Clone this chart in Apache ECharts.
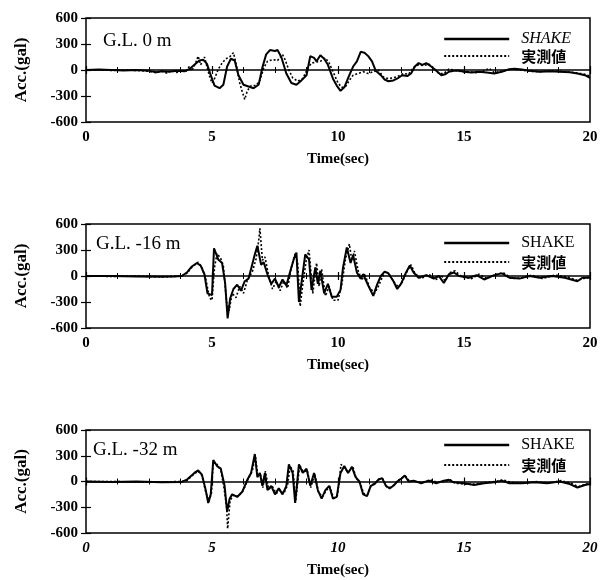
<!DOCTYPE html>
<html>
<head>
<meta charset="utf-8">
<title>SHAKE vs 実測値</title>
<script src="https://cdn.jsdelivr.net/npm/echarts@6/dist/echarts.min.js"></script>
<style>
  html, body { margin: 0; padding: 0; background: #fff; }
  #chart { width: 604px; height: 580px; }
</style>
</head>
<body>
<div id="chart"></div>
<script>
// depth labels and tick labels
const depthLabels = ['G.L. 0 m', 'G.L. -16 m', 'G.L. -32 m']
const xTicks = [0, 5, 10, 15, 20]
const yTicks = [-600, -300, 0, 300, 600]

// G.L. 0 m
const t0s = [0, 0.5, 1.0, 1.5, 2.0, 2.5, 2.8, 3.0, 3.3, 3.6, 3.9, 4.1, 4.3, 4.5, 4.65, 4.8, 4.95, 5.1, 5.3, 5.45, 5.6, 5.75, 5.9, 6.05, 6.25, 6.45, 6.65, 6.85, 7.0, 7.15, 7.3, 7.5, 7.6, 7.75, 7.95, 8.15, 8.35, 8.55, 8.75, 8.9, 9.05, 9.15, 9.3, 9.45, 9.6, 9.8, 9.95, 10.1, 10.25, 10.45, 10.6, 10.75, 10.9, 11.05, 11.2, 11.35, 11.5, 11.7, 11.85, 12.0, 12.2, 12.4, 12.55, 12.75, 12.9, 13.05, 13.2, 13.35, 13.5, 13.7, 13.9, 14.1, 14.25, 14.4, 14.6, 14.8, 15.0, 15.3, 15.6, 15.9, 16.2, 16.5, 16.8, 17.0, 17.3, 17.6, 18.0, 18.4, 18.8, 19.2, 19.5, 19.8, 20]
const shake0 = [0, 5, 0, -5, 0, -10, -25, -15, -20, -10, -15, 10, 60, 110, 120, 70, -60, -180, -210, -170, 40, 130, 110, -60, -170, -190, -210, -170, 30, 180, 230, 220, 230, 150, -40, -150, -170, -120, -60, 160, 140, 100, 170, 130, 60, -100, -180, -240, -200, -60, 40, 100, 210, 200, 160, 100, -10, -60, -110, -130, -120, -90, -60, -70, -40, 40, 80, 60, 80, 40, -10, -60, -50, -20, -10, -5, -20, -30, -20, -30, -40, -20, 10, 15, 5, -10, -20, -15, -20, -25, -40, -60, -90]
const t0m = [0, 0.5, 1.0, 1.5, 2.0, 2.5, 2.75, 3.0, 3.2, 3.4, 3.6, 3.8, 3.95, 4.1, 4.2, 4.35, 4.45, 4.55, 4.7, 4.8, 4.9, 5.0, 5.1, 5.25, 5.4, 5.55, 5.7, 5.85, 5.95, 6.1, 6.2, 6.3, 6.4, 6.55, 6.75, 6.9, 7.05, 7.2, 7.4, 7.6, 7.8, 7.9, 8.05, 8.2, 8.4, 8.6, 8.8, 8.95, 9.1, 9.3, 9.5, 9.65, 9.85, 10.0, 10.15, 10.3, 10.45, 10.6, 10.8, 11.0, 11.2, 11.4, 11.6, 11.8, 12.0, 12.2, 12.4, 12.6, 12.8, 13.0, 13.2, 13.4, 13.6, 13.8, 14.0, 14.2, 14.4, 14.6, 14.9, 15.2, 15.5, 15.8, 16.0, 16.2, 16.6, 16.9, 17.2, 17.6, 18.0, 18.5, 19.0, 19.4, 19.8, 20]
const meas0 = [0, 0, -5, 0, -5, -15, -30, -10, -35, -5, -30, 5, -25, 40, -10, 80, 160, 60, 150, 40, -70, -150, -100, 10, 80, 130, 150, 200, 80, -150, -250, -340, -240, -180, -180, -120, 20, 100, 120, 110, 180, 120, 0, -90, -130, -100, 20, 80, 90, 100, 140, 80, -50, -150, -200, -190, -120, -60, -40, -20, -40, -20, 0, -80, -100, -90, -70, -40, -50, 30, 60, 50, 70, 20, -40, -40, 10, 0, -20, -20, -30, -10, 20, -30, -10, 15, 0, -15, -20, -10, -20, -30, -50, -70]

// G.L. -16 m
const t1s = [0, 1, 2, 3, 3.5, 3.8, 4.0, 4.2, 4.4, 4.55, 4.7, 4.82, 5.0, 5.08, 5.25, 5.4, 5.52, 5.62, 5.72, 5.85, 6.0, 6.15, 6.3, 6.45, 6.55, 6.7, 6.8, 6.95, 7.05, 7.2, 7.35, 7.5, 7.65, 7.8, 7.95, 8.1, 8.25, 8.35, 8.45, 8.55, 8.7, 8.85, 8.95, 9.1, 9.2, 9.3, 9.45, 9.6, 9.75, 9.95, 10.1, 10.2, 10.35, 10.5, 10.6, 10.75, 10.9, 11.0, 11.2, 11.4, 11.55, 11.7, 11.85, 12.0, 12.2, 12.35, 12.5, 12.7, 12.85, 13.0, 13.2, 13.5, 13.8, 14.0, 14.2, 14.4, 14.6, 14.8, 15.2, 15.5, 15.8, 16.2, 16.5, 16.8, 17.2, 17.6, 18.0, 18.5, 19.0, 19.5, 19.7, 20]
const shake1 = [0, 0, -5, -10, -5, 0, 40, 110, 150, 120, 20, -200, -220, 320, 190, 150, -80, -490, -260, -150, -100, -170, -60, -30, 80, 250, 350, 130, 160, 20, -90, -30, -130, -40, -110, 50, 200, 270, -300, -80, 250, 190, -160, 100, -90, 60, -200, -90, -240, -240, -160, 100, 330, 150, 240, 40, -30, 20, -110, -230, -100, 0, 50, 30, -60, -150, -90, 40, 120, 40, -20, 10, -30, 0, -80, 20, 40, 0, -20, 10, -40, 10, 30, -20, -30, 0, -20, 0, -20, -60, -20, -20]
const t1m = [0, 1, 2, 3, 3.8, 4.0, 4.2, 4.45, 4.6, 4.75, 4.9, 5.0, 5.1, 5.2, 5.35, 5.45, 5.58, 5.68, 5.8, 5.95, 6.1, 6.25, 6.4, 6.6, 6.75, 6.85, 6.9, 7.0, 7.1, 7.25, 7.4, 7.55, 7.7, 7.85, 8.0, 8.15, 8.3, 8.4, 8.5, 8.6, 8.75, 8.85, 9.0, 9.15, 9.25, 9.35, 9.5, 9.65, 9.8, 10.0, 10.15, 10.3, 10.45, 10.55, 10.65, 10.8, 10.95, 11.05, 11.25, 11.45, 11.6, 11.75, 11.9, 12.05, 12.25, 12.4, 12.55, 12.75, 12.9, 13.05, 13.3, 13.6, 13.9, 14.1, 14.25, 14.45, 14.65, 14.9, 15.3, 15.6, 15.9, 16.3, 16.55, 16.9, 17.3, 17.7, 18.1, 18.6, 19.1, 19.5, 19.75, 20]
const meas1 = [0, -5, 0, -10, 0, 30, 100, 160, 100, -30, -250, -280, 100, 260, 200, 120, -300, -400, -200, -250, -120, -200, -50, 50, 200, 400, 550, 180, 220, 0, -150, -60, -170, -60, -140, 100, 260, 150, -350, -100, 200, 300, -200, 150, -120, 80, -230, -120, -280, -280, -100, 200, 370, 180, 290, 60, -50, 30, -130, -200, -120, -20, 60, 10, -80, -130, -70, 60, 130, 30, -30, 20, -40, 10, -60, 40, 60, -10, -30, 20, -30, 20, 40, -30, -20, 10, -30, 10, -10, -50, -30, -10]

// G.L. -32 m
const t2s = [0, 1, 2, 3, 3.8, 4.0, 4.3, 4.45, 4.6, 4.75, 4.85, 4.95, 5.05, 5.2, 5.35, 5.5, 5.6, 5.7, 5.8, 6.0, 6.2, 6.4, 6.55, 6.7, 6.8, 6.9, 7.0, 7.1, 7.2, 7.35, 7.5, 7.65, 7.8, 7.95, 8.05, 8.2, 8.3, 8.45, 8.6, 8.75, 8.9, 9.05, 9.2, 9.35, 9.5, 9.65, 9.8, 9.95, 10.1, 10.25, 10.4, 10.55, 10.7, 10.85, 11.0, 11.15, 11.3, 11.45, 11.6, 11.75, 11.9, 12.05, 12.2, 12.35, 12.5, 12.65, 12.8, 13.0, 13.3, 13.6, 13.9, 14.2, 14.4, 14.6, 15.0, 15.4, 15.8, 16.2, 16.5, 16.8, 17.3, 17.8, 18.3, 18.8, 19.2, 19.5, 19.8, 20]
const shake2 = [0, -5, 0, -10, -5, 20, 100, 130, 80, -100, -250, -150, 250, 180, 150, -50, -350, -200, -150, -180, -120, 20, 100, 320, 50, 100, -50, 100, -100, -50, -150, -80, -150, -50, 200, 100, -250, 200, 100, 150, -50, 100, -100, -200, -100, -50, -200, -180, 100, 180, 100, 170, 50, 0, -150, -170, -50, -30, 20, 40, -50, -80, -50, 0, 30, 70, 0, 10, -20, 10, -20, 10, 20, -10, -20, -40, -20, -10, 10, -20, -20, -10, -20, 0, -30, -70, -40, -30]
const t2m = [0, 1, 2, 3, 3.8, 4.0, 4.3, 4.45, 4.6, 4.75, 4.88, 4.98, 5.05, 5.2, 5.35, 5.48, 5.58, 5.62, 5.72, 5.85, 6.05, 6.25, 6.45, 6.6, 6.72, 6.82, 6.92, 7.02, 7.12, 7.25, 7.4, 7.55, 7.7, 7.85, 8.0, 8.1, 8.22, 8.32, 8.48, 8.62, 8.78, 8.92, 9.08, 9.22, 9.38, 9.52, 9.68, 9.82, 9.98, 10.12, 10.25, 10.42, 10.58, 10.72, 10.88, 11.02, 11.18, 11.32, 11.48, 11.62, 11.78, 11.92, 12.08, 12.22, 12.38, 12.52, 12.68, 12.82, 13.05, 13.35, 13.65, 13.95, 14.25, 14.45, 14.65, 15.05, 15.45, 15.85, 16.25, 16.55, 16.85, 17.35, 17.85, 18.35, 18.85, 19.25, 19.55, 19.85, 20]
const meas2 = [0, 0, -5, -5, 0, 10, 90, 120, 70, -120, -230, -130, 230, 200, 130, -80, -300, -550, -220, -160, -170, -100, 40, 120, 300, 60, 90, -70, 120, -90, -60, -140, -100, -140, -40, 180, 120, -230, 190, 110, 130, -70, 90, -120, -180, -110, -60, -190, -160, 200, 150, 110, 180, 40, -20, -140, -150, -40, -20, 30, 30, -60, -70, -40, 10, 40, 60, 10, 0, -10, 20, -10, 0, 20, -20, -30, -30, -10, 0, 20, -10, -20, 0, -20, 10, -20, -60, -30, -20]

const times = [[t0s, t0m], [t1s, t1m], [t2s, t2m]]
const shakeVals = [shake0, shake1, shake2]
const measVals = [meas0, meas1, meas2]

const pair = (ts, vs) => ts.map((t, i) => [t, vs[i]])

const SERIF = '"Liberation Serif", "DejaVu Serif", serif'
const CJK = '"Noto Sans CJK JP", sans-serif'

const grids = [
  { left: 86, top: 18, width: 504, height: 104 },
  { left: 86, top: 224, width: 504, height: 104 },
  { left: 86, top: 430, width: 504, height: 103 }
]
const legendTops = [31, 235, 437]
const legendGaps = [1, 3, 4]
const labelTops = [32, 235, 441]
const labelLefts = [103, 96, 93]

const xAxes = []
const yAxes = []
const series = []
const legends = []
const graphics = []

grids.forEach((g, i) => {
  xAxes.push({
    type: 'value', gridIndex: i, min: xTicks[0], max: xTicks[xTicks.length - 1], interval: 5,
    axisLine: { show: false },
    axisTick: { inside: true, length: 4, lineStyle: { color: '#000', width: 1.2 } },
    minorTick: { show: true, splitNumber: 4, length: 3, lineStyle: { color: '#000' } },
    splitLine: { show: false },
    axisLabel: {
      color: '#000', fontFamily: SERIF, fontWeight: 'bold', fontSize: 15, margin: 8,
      fontStyle: i === 2 ? 'italic' : 'normal'
    },
    name: 'Time(sec)', nameLocation: 'middle', nameGap: 30,
    nameTextStyle: { color: '#000', fontFamily: SERIF, fontWeight: 'bold', fontSize: 15 }
  })
  xAxes.push({
    type: 'value', gridIndex: i, position: 'top', min: 0, max: 20, interval: 5,
    axisLine: { show: false },
    axisTick: { inside: true, length: 4, lineStyle: { color: '#000', width: 1.2 } },
    minorTick: { show: true, splitNumber: 4, length: 3, lineStyle: { color: '#000' } },
    splitLine: { show: false }, axisLabel: { show: false }
  })
  yAxes.push({
    type: 'value', gridIndex: i, min: yTicks[0], max: yTicks[yTicks.length - 1], interval: 300,
    axisLine: { show: false },
    axisTick: { inside: true, length: 5, lineStyle: { color: '#000', width: 1.2 } },
    splitLine: { show: false },
    axisLabel: { color: '#000', fontFamily: SERIF, fontWeight: 'bold', fontSize: 15, margin: 8 },
    name: 'Acc.(gal)', nameLocation: 'middle', nameGap: 56,
    nameTextStyle: { color: '#000', fontFamily: SERIF, fontWeight: 'bold', fontSize: 17 }
  })
  yAxes.push({
    type: 'value', gridIndex: i, position: 'right', min: -600, max: 600, interval: 300,
    axisLine: { show: false },
    axisTick: { inside: true, length: 5, lineStyle: { color: '#000', width: 1.2 } },
    splitLine: { show: false }, axisLabel: { show: false }
  })

  series.push({
    name: 'SHAKE', type: 'line', xAxisIndex: i * 2, yAxisIndex: i * 2,
    data: pair(times[i][0], shakeVals[i]), symbol: 'none',
    lineStyle: { color: '#000', width: 2 }, itemStyle: { color: '#000' },
    markLine: {
      silent: true, symbol: 'none', label: { show: false },
      lineStyle: { color: '#000', width: 1.5, type: 'solid' },
      data: [{ yAxis: 0 }]
    }
  })
  series.push({
    name: '実測値', type: 'line', xAxisIndex: i * 2, yAxisIndex: i * 2,
    data: pair(times[i][1], measVals[i]), symbol: 'none',
    lineStyle: { color: '#000', width: 1.6, type: [2, 2] }, itemStyle: { color: '#000' }
  })

  legends.push({
    orient: 'vertical', left: 443, top: legendTops[i], padding: 0,
    itemWidth: 65, itemHeight: 12, itemGap: legendGaps[i],
    selectedMode: false,
    itemStyle: { color: 'rgba(0,0,0,0)', borderWidth: 0 },
    textStyle: { color: '#000', fontSize: 16, lineHeight: 16, fontFamily: SERIF, padding: [0, 0, 0, 7] },
    data: [
      {
        name: 'SHAKE', lineStyle: { color: '#000', width: 2.4, type: 'solid' },
        textStyle: { fontStyle: i === 0 ? 'italic' : 'normal' }
      },
      {
        name: '実測値', lineStyle: { color: '#000', width: 2.2, type: [2, 2] },
        textStyle: { fontFamily: CJK, fontSize: 15, fontWeight: 'bold' }
      }
    ]
  })

  graphics.push({
    type: 'text', left: labelLefts[i], top: labelTops[i],
    style: { text: depthLabels[i], fontFamily: SERIF, fontSize: 19, fill: '#000' }
  })
})

const chart = echarts.init(document.getElementById('chart'), null, { renderer: 'canvas' })
chart.setOption({
  animation: false,
  backgroundColor: '#fff',
  grid: grids.map(g => ({ ...g, show: true, borderColor: '#000', borderWidth: 1.5, backgroundColor: 'transparent' })),
  xAxis: xAxes,
  yAxis: yAxes,
  legend: legends,
  series: series,
  graphic: graphics
})
</script>
</body>
</html>
